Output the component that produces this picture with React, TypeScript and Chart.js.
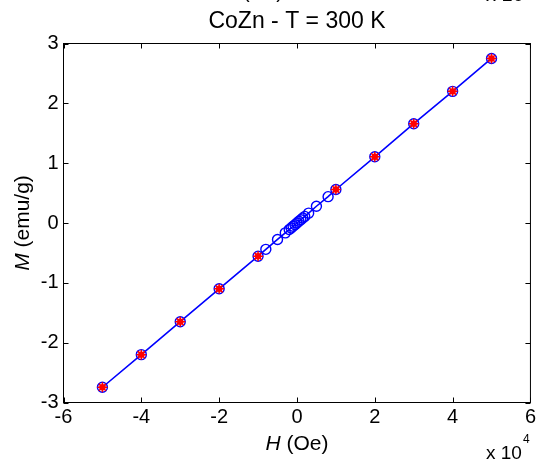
import React, { useEffect, useRef } from "react";
import { Chart, registerables } from "chart.js";
Chart.register(...registerables);

// Applied field H (Oe) for all measured points
const allH = [-50000, -40000, -30000, -20000, -10000, -8000, -5000, -3000, -2000, -1500, -1000, -500, 0, 500, 1000, 1500, 2000, 3000, 5000, 8000, 10000, 20000, 30000, 40000, 50000];
// Magnetisation M (emu/g) for all measured points
const allM = [-2.745, -2.2, -1.65, -1.1, -0.555, -0.44, -0.275, -0.165, -0.11, -0.083, -0.055, -0.028, 0, 0.028, 0.055, 0.083, 0.11, 0.165, 0.28, 0.44, 0.56, 1.106, 1.66, 2.2, 2.75];
// Highlighted (red) points
const redH = [-50000, -40000, -30000, -20000, -10000, 10000, 20000, 30000, 40000, 50000];
const redM = [-2.745, -2.2, -1.65, -1.1, -0.555, 0.56, 1.106, 1.66, 2.2, 2.75];

const xTickValues = [-60000, -40000, -20000, 0, 20000, 40000, 60000];
const yTickValues = [-3, -2, -1, 0, 1, 2, 3];

const titleText = "CoZn - T = 300 K";
const FONT = "'Liberation Sans', Arial, Helvetica, sans-serif";

const boxPlugin = {
  id: "matlabBox",
  afterDraw(chart: any) {
    const ctx = chart.ctx;
    const { left, right, top, bottom } = chart.chartArea;
    const xs = chart.scales.x;
    const ys = chart.scales.y;
    ctx.save();
    ctx.strokeStyle = "#000";
    ctx.lineWidth = 1;
    ctx.strokeRect(left, top, right - left, bottom - top);
    const tl = 5;
    ctx.beginPath();
    xTickValues.forEach((v) => {
      const px = Math.round(xs.getPixelForValue(v)) + 0.5;
      ctx.moveTo(px, bottom);
      ctx.lineTo(px, bottom - tl);
      ctx.moveTo(px, top);
      ctx.lineTo(px, top + tl);
    });
    yTickValues.forEach((v) => {
      const py = Math.round(ys.getPixelForValue(v)) + 0.5;
      ctx.moveTo(left, py);
      ctx.lineTo(left + tl, py);
      ctx.moveTo(right, py);
      ctx.lineTo(right - tl, py);
    });
    ctx.stroke();

    ctx.fillStyle = "#000";
    // title
    ctx.font = `23px ${FONT}`;
    ctx.textAlign = "center";
    ctx.textBaseline = "alphabetic";
    const cx = (left + right) / 2;
    ctx.fillText(titleText, cx, 28);

    // cut-off label from the plot above
    ctx.font = `20px ${FONT}`;
    ctx.textAlign = "left";
    ctx.fillText("(Oe)", 243, -2);
    ctx.fillText("x 10", 486, 1);

    // x axis label: italic H + (Oe)
    const xl1 = "H";
    const xl2 = " (Oe)";
    ctx.font = `italic 21px ${FONT}`;
    const w1 = ctx.measureText(xl1).width;
    ctx.font = `21px ${FONT}`;
    const w2 = ctx.measureText(xl2).width;
    let sx = cx - (w1 + w2) / 2;
    ctx.font = `italic 21px ${FONT}`;
    ctx.fillText(xl1, sx, 450);
    ctx.font = `21px ${FONT}`;
    ctx.fillText(xl2, sx + w1, 450);

    // x 10^4
    ctx.font = `19px ${FONT}`;
    ctx.fillText("x 10", 486, 459);
    const wx = ctx.measureText("x 10").width;
    ctx.font = `12px ${FONT}`;
    ctx.fillText("4", 486 + wx + 1, 443);

    // y axis label rotated
    ctx.save();
    ctx.translate(29, (top + bottom) / 2);
    ctx.rotate(-Math.PI / 2);
    const yl1 = "M";
    const yl2 = " (emu/g)";
    ctx.font = `italic 21px ${FONT}`;
    const v1 = ctx.measureText(yl1).width;
    ctx.font = `21px ${FONT}`;
    const v2 = ctx.measureText(yl2).width;
    const sy = -(v1 + v2) / 2;
    ctx.font = `italic 21px ${FONT}`;
    ctx.fillText(yl1, sy, 0);
    ctx.font = `21px ${FONT}`;
    ctx.fillText(yl2, sy + v1, 0);
    ctx.restore();

    ctx.restore();
  },
};

export default function App() {
  const ref = useRef<HTMLCanvasElement | null>(null);
  useEffect(() => {
    if (!ref.current) return;
    const chart = new Chart(ref.current, {
      type: "scatter",
      data: {
        datasets: [
          {
            label: "red star",
            data: redH.map((h, i) => ({ x: h, y: redM[i] })),
            showLine: false,
            pointStyle: "star",
            pointRadius: 5,
            pointBorderColor: "#ff0000",
            pointBackgroundColor: "#ff0000",
            pointBorderWidth: 1.5,
          },
          {
            label: "red fill",
            data: redH.map((h, i) => ({ x: h, y: redM[i] })),
            showLine: false,
            pointStyle: "circle",
            pointRadius: 3.2,
            pointBorderWidth: 0,
            pointBorderColor: "#ff0000",
            pointBackgroundColor: "#ff0000",
          },
          {
            label: "data",
            data: allH.map((h, i) => ({ x: h, y: allM[i] })),
            showLine: true,
            borderColor: "#0000ff",
            borderWidth: 1.6,
            pointStyle: "circle",
            pointRadius: 5,
            pointBorderColor: "#0000ff",
            pointBackgroundColor: "rgba(0,0,0,0)",
            pointBorderWidth: 1.4,
          },
        ],
      },
      options: {
        animation: false,
        responsive: false,
        devicePixelRatio: 1,
        layout: { padding: { top: 43.5, right: 7.5, left: 0, bottom: 0 } },
        plugins: { legend: { display: false }, tooltip: { enabled: false }, title: { display: false } },
        scales: {
          x: {
            type: "linear",
            min: -60000,
            max: 60000,
            afterFit: (s: any) => { s.height = 60.5; },
            afterBuildTicks: (s: any) => { s.ticks = xTickValues.map((v) => ({ value: v })); },
            ticks: {
              color: "#000",
              font: { family: FONT, size: 20 },
              padding: 3,
              maxRotation: 0,
              callback: (v: any) => String(Number(v) / 10000),
            },
            grid: { display: false, drawTicks: false },
            border: { display: false },
          },
          y: {
            type: "linear",
            min: -3,
            max: 3,
            afterFit: (s: any) => { s.width = 63.5; },
            afterBuildTicks: (s: any) => { s.ticks = yTickValues.map((v) => ({ value: v })); },
            ticks: {
              color: "#000",
              font: { family: FONT, size: 20 },
              padding: 5,
              callback: (v: any) => String(v),
            },
            grid: { display: false, drawTicks: false },
            border: { display: false },
          },
        },
      },
      plugins: [boxPlugin],
    });
    return () => chart.destroy();
  }, []);
  return (
    <div style={{ position: "absolute", left: 0, top: 0, width: 539, height: 463, background: "#fff" }}>
      <canvas ref={ref} width={539} height={463} style={{ width: 539, height: 463 }} />
    </div>
  );
}
